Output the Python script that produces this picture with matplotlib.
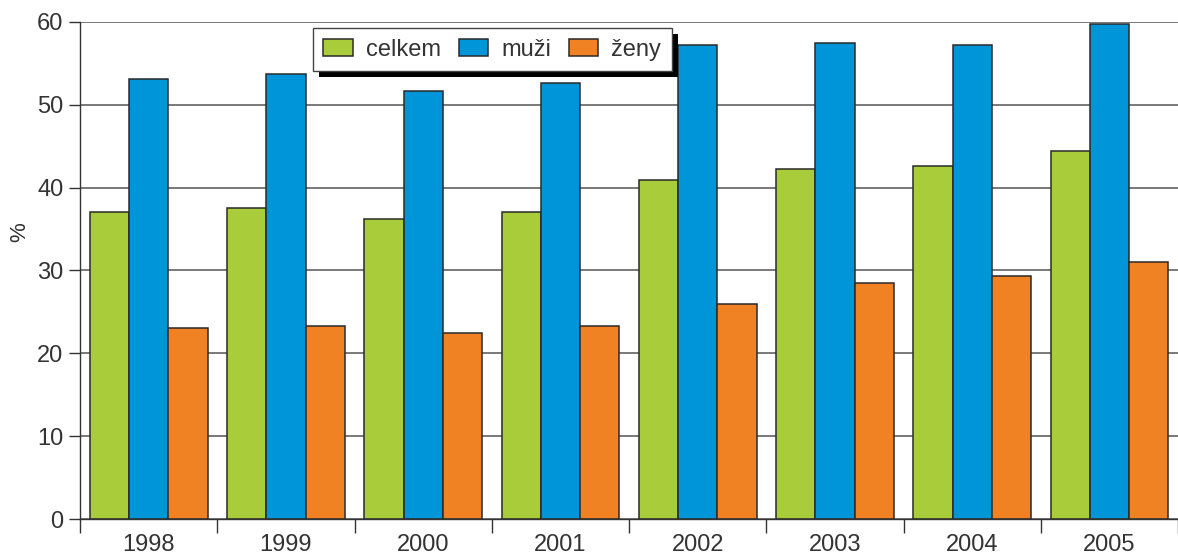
import numpy as np
import matplotlib.pyplot as plt
from matplotlib.patches import Rectangle
from matplotlib.transforms import IdentityTransform

years = ['1998', '1999', '2000', '2001', '2002', '2003', '2004', '2005']
celkem = [37.1, 37.6, 36.2, 37.1, 40.9, 42.3, 42.6, 44.4]
muzi = [53.1, 53.7, 51.7, 52.6, 57.2, 57.5, 57.2, 59.7]
zeny = [23.0, 23.3, 22.4, 23.3, 26.0, 28.5, 29.3, 31.0]

series = [('celkem', celkem, '#A8CC3A'),
          ('muži', muzi, '#0094D8'),
          ('ženy', zeny, '#F08223')]

plt.rcParams['font.family'] = ['Liberation Sans', 'DejaVu Sans']
txt = '#333333'

fig = plt.figure(figsize=(11.78, 5.56), dpi=100)
ax = fig.add_axes([0.068, 0.0665, 0.932, 0.894])

x = np.arange(len(years))
w = 0.286
for i, (name, vals, col) in enumerate(series):
    ax.bar(x + (i - 1) * w, vals, width=w, color=col, edgecolor='#2a2a2a',
           linewidth=1.1, label=name, zorder=2)

ax.set_xlim(-0.5, len(years) - 0.5)
ax.set_ylim(0, 60)
ax.set_yticks(range(0, 61, 10))
ax.yaxis.grid(True, color='#555555', linewidth=1.1, zorder=0)
ax.set_axisbelow(True)

ax.set_xticks(x)
ax.set_xticklabels(years)
ax.set_xticks(np.arange(-0.5, len(years), 1), minor=True)
ax.tick_params(axis='x', which='major', length=0, labelsize=17, pad=11,
               labelcolor=txt)
ax.tick_params(axis='x', which='minor', length=10, width=1, color='#333333')
ax.tick_params(axis='y', length=8, width=1, color='#333333', labelsize=17,
               pad=4, labelcolor=txt)

for s in ['top', 'right']:
    ax.spines[s].set_visible(False)
for s in ['left', 'bottom']:
    ax.spines[s].set_color('#333333')
    ax.spines[s].set_linewidth(1.0)

ax.set_ylabel('%', fontsize=16, color=txt)
ax.yaxis.set_label_coords(-0.045, 0.577)

leg = ax.legend(loc='upper left', bbox_to_anchor=(0.212, 0.988), borderaxespad=0,
                ncol=3, fontsize=17, fancybox=False, framealpha=1,
                edgecolor='#444444', handlelength=1.25, handleheight=0.72,
                columnspacing=0.75, handletextpad=0.55, borderpad=0.45,
                labelcolor=txt)
leg.get_frame().set_linewidth(1.0)
leg.set_zorder(6)

# heavier drop shadow behind the legend box
fig.canvas.draw()
bb = leg.get_window_extent()
shadow = Rectangle((bb.x0 + 6, bb.y0 - 6), bb.width, bb.height,
                   transform=IdentityTransform(), facecolor='black',
                   edgecolor='none', zorder=5, clip_on=False)
ax.add_patch(shadow)

fig.savefig('out.png', dpi=100)
